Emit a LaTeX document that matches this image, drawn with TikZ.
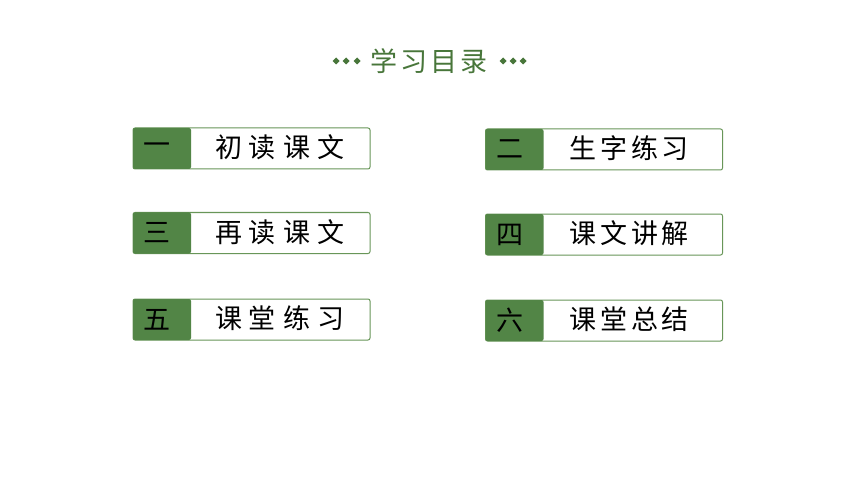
\documentclass[tikz,border=0pt]{standalone}
\usepackage{fontspec}
\usepackage{xcolor}
\usepackage{tikz}
\usetikzlibrary{shapes.geometric}
\usetikzlibrary{positioning}
\newfontfamily\cjk{Noto Sans CJK SC}
\newfontfamily\cjkwide[LetterSpace=26]{Noto Sans CJK SC}
\newfontfamily\cjknarrow[LetterSpace=14]{Noto Sans CJK SC}
\newfontfamily\cjktitle[LetterSpace=11]{Noto Sans CJK SC}
\definecolor{leaf}{RGB}{82,133,70}
\definecolor{leafline}{RGB}{104,150,88}
\definecolor{titlegreen}{RGB}{72,118,58}

\begin{document}
\begin{tikzpicture}[x=1pt,y=-1pt]
        \tikzstyle{every node}=[inner sep=0pt,outer sep=0pt]
        \tikzstyle{itembox}=[draw=leafline,line width=1pt,fill=white,rounded corners=2pt,minimum width=237pt,minimum height=41pt]
        \tikzstyle{numbox}=[fill=leaf,rounded corners=2pt,minimum width=58pt,minimum height=41pt]
        \tikzstyle{numtext}=[font=\cjk\fontsize{27pt}{27pt}\selectfont,text=black]
        \tikzstyle{lefttext}=[font=\cjkwide\fontsize{27pt}{27pt}\selectfont,text=black,anchor=west]
        \tikzstyle{righttext}=[font=\cjknarrow\fontsize{27pt}{27pt}\selectfont,text=black,anchor=west]
        \tikzstyle{dot}=[diamond,fill=titlegreen,minimum size=7pt]
        \useasboundingbox[fill=white] (0,0) rectangle (860,484);
        % title
        \node[font=\cjktitle\fontsize{27pt}{27pt}\selectfont,text=titlegreen] (title) at (429,61) {学习目录};
        \node[dot] (dl1) at (336,61) {};
        \node[dot] (dl2) at (346,61) {};
        \node[dot] (dl3) at (357,61) {};
        \node[dot] (dr1) at (503,61) {};
        \node[dot] (dr2) at (513,61) {};
        \node[dot] (dr3) at (523,61) {};
        % left column
        \node[itembox] (b1) at (251.5,148.5) {};
        \node[numbox,anchor=west] (g1) at (b1.west) {};
        \node[numtext] (n1) at ([xshift=-5pt]g1.center) {一};
        \node[lefttext] (t1) at ([xshift=82pt,yshift=1pt]b1.west) {初读课文};
        \node[itembox] (b3) at (251.5,233) {};
        \node[numbox,anchor=west] (g3) at (b3.west) {};
        \node[numtext] (n3) at ([xshift=-5pt]g3.center) {三};
        \node[lefttext] (t3) at ([xshift=82pt,yshift=1pt]b3.west) {再读课文};
        \node[itembox] (b5) at (251.5,319.5) {};
        \node[numbox,anchor=west] (g5) at (b5.west) {};
        \node[numtext] (n5) at ([xshift=-5pt]g5.center) {五};
        \node[lefttext] (t5) at ([xshift=82pt,yshift=1pt]b5.west) {课堂练习};
        % right column
        \node[itembox] (b2) at (604,149.5) {};
        \node[numbox,anchor=west] (g2) at (b2.west) {};
        \node[numtext] (n2) at ([xshift=-5pt]g2.center) {二};
        \node[righttext] (t2) at ([xshift=84pt,yshift=1pt]b2.west) {生字练习};
        \node[itembox] (b4) at (604,234.5) {};
        \node[numbox,anchor=west] (g4) at (b4.west) {};
        \node[numtext] (n4) at ([xshift=-5pt]g4.center) {四};
        \node[righttext] (t4) at ([xshift=84pt,yshift=1pt]b4.west) {课文讲解};
        \node[itembox] (b6) at (604,320.5) {};
        \node[numbox,anchor=west] (g6) at (b6.west) {};
        \node[numtext] (n6) at ([xshift=-5pt]g6.center) {六};
        \node[righttext] (t6) at ([xshift=84pt,yshift=1pt]b6.west) {课堂总结};
        \tikzstyle{every node}=[]
      \end{tikzpicture}
\end{document}
